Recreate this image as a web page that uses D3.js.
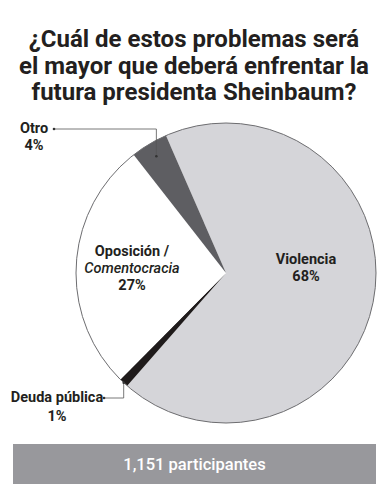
<!DOCTYPE html>
<html lang="es">
<head>
<meta charset="UTF-8">
<title>Sheinbaum encuesta</title>
<style>
  body { margin: 0; background: #fff; }
  svg text { font-family: Roboto, "Noto Sans", sans-serif; }
</style>
</head>
<body>
<script src="https://d3js.org/d3.v7.min.js"></script>
<script>
// data
let titleLines = ["¿Cuál de estos problemas será", "el mayor que deberá enfrentar la", "futura presidenta Sheinbaum?"];
let categories = ["Violencia", "Deuda pública", "Oposición / Comentocracia", "Otro"];
let values = [68, 1, 27, 4];
let footer = "1,151 participantes";

let colors = ["#d5d5d9", "#1f1b1b", "#ffffff", "#5e5e62"];

let width = 388, height = 500;
let cx = 226, cy = 273, r = 150;

let svg = d3.select('body').append('svg')
    .attr('width', width)
    .attr('height', height);

// title
svg.selectAll('.title')
    .data(titleLines)
    .enter()
    .append('text')
    .attr('class', 'title')
    .attr('x', width / 2)
    .attr('y', function(d, i) { return 47 + i * 26.5; })
    .attr('text-anchor', 'middle')
    .attr('font-size', '24px')
    .attr('font-weight', 'bold')
    .attr('fill', '#231f20')
    .text(function(d) { return d; });

// pie
let startA = -23.6 * Math.PI / 180;
let pie = d3.pie().sort(null)
    .startAngle(startA)
    .endAngle(startA + 2 * Math.PI);
let arcs = pie(values);
let arc = d3.arc().innerRadius(0).outerRadius(r);

let g = svg.append('g').attr('transform', 'translate(' + cx + ',' + cy + ')');

g.selectAll('path')
    .data(arcs)
    .enter()
    .append('path')
    .attr('d', arc)
    .attr('fill', function(d, i) { return colors[i]; });

g.append('circle')
    .attr('r', r)
    .attr('fill', 'none')
    .attr('stroke', '#6d6d70')
    .attr('stroke-width', 1);

// inside labels
function label(lines, x, y, step) {
    let t = svg.append('text')
        .attr('text-anchor', 'middle')
        .attr('font-size', '14.5px')
        .attr('font-weight', 'bold')
        .attr('fill', '#231f20');
    lines.forEach(function(l, i) {
        t.append('tspan')
            .attr('x', x)
            .attr('y', y + i * step)
            .attr('font-style', l.italic ? 'italic' : null)
            .attr('font-weight', l.italic ? 500 : null)
            .text(l.text);
    });
}

label([{text: categories[0]}, {text: values[0] + '%'}], 306, 264, 17);
label([{text: 'Oposición /'}, {text: 'Comentocracia', italic: true}, {text: values[2] + '%'}], 132, 256, 17);
label([{text: categories[3]}, {text: values[3] + '%'}], 34, 133, 17);
label([{text: categories[1]}, {text: values[1] + '%'}], 57, 402, 19);

// leader lines
function leader(pts) {
    svg.append('path')
        .attr('d', d3.line()(pts))
        .attr('fill', 'none')
        .attr('stroke', '#555')
        .attr('stroke-width', 0.8);
    [pts[0], pts[pts.length - 1]].forEach(function(p) {
        svg.append('circle').attr('cx', p[0]).attr('cy', p[1]).attr('r', 1.3).attr('fill', '#333');
    });
}

// Otro: from label to inside the slice
let aOtro = (arcs[3].startAngle + arcs[3].endAngle) / 2;
let ox = cx + Math.sin(aOtro) * (r - 14);
leader([[54, 129], [ox, 129], [ox, cy - Math.cos(aOtro) * (r - 14)]]);

// Deuda: from label to slice edge
let aDeuda = (arcs[1].startAngle + arcs[1].endAngle) / 2;
let dx = cx + Math.sin(aDeuda) * r;
let dy = cy - Math.cos(aDeuda) * r;
leader([[104, 398], [dx, 398], [dx, dy]]);

// footer
svg.append('rect')
    .attr('x', 13).attr('y', 444)
    .attr('width', 363).attr('height', 40)
    .attr('fill', '#98989c');
svg.append('text')
    .attr('x', 194.5).attr('y', 470)
    .attr('text-anchor', 'middle')
    .attr('font-size', '16.5px')
    .attr('font-weight', 500)
    .attr('fill', '#ffffff')
    .text(footer);
</script>
</body>
</html>
